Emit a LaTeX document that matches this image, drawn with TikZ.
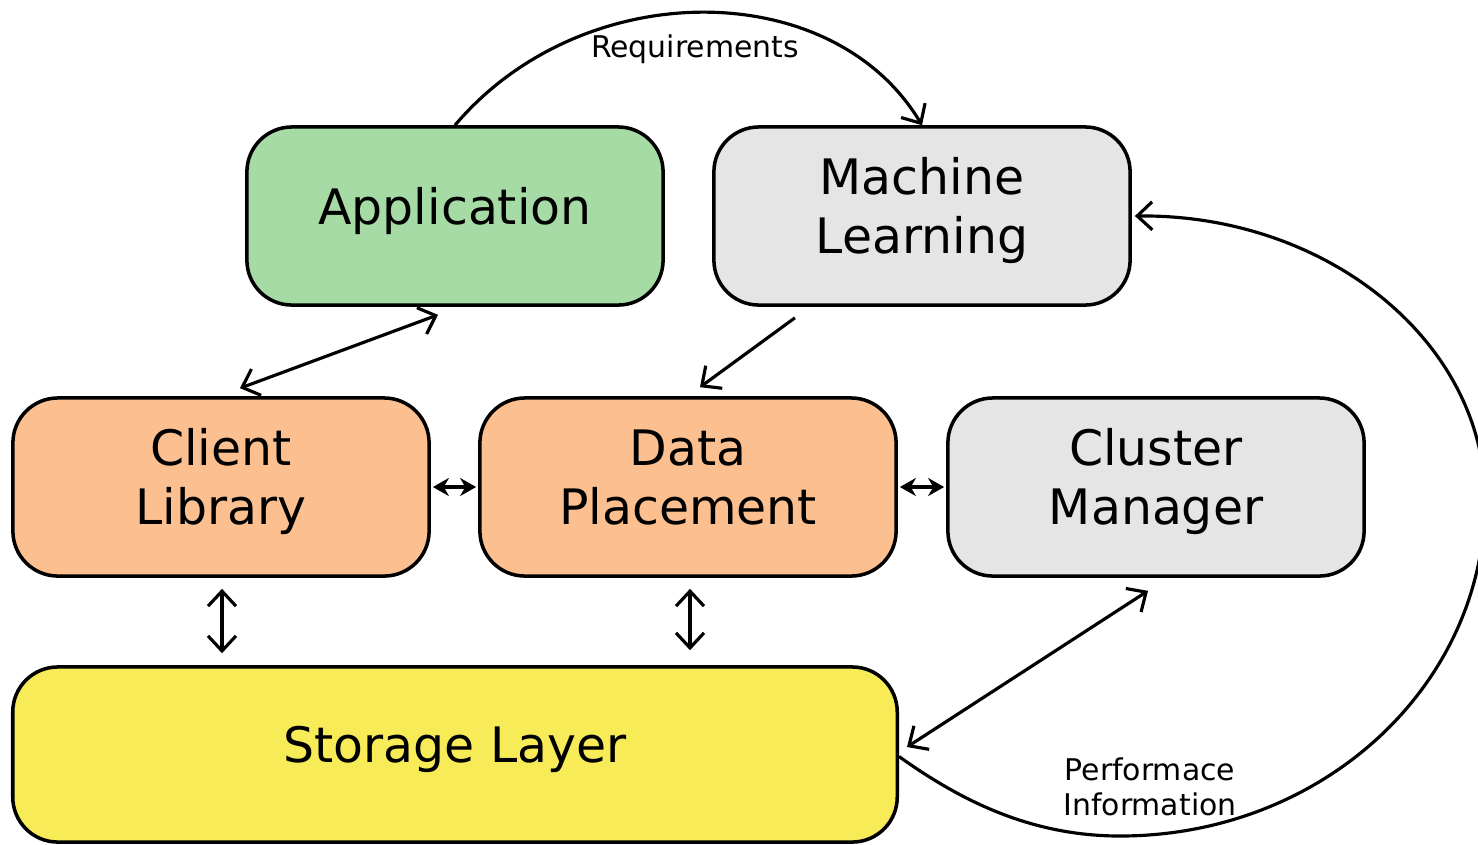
\documentclass[tikz,border=0pt]{standalone}
\usepackage{fontspec}
\setmainfont{DejaVu Sans}
\usepackage{xcolor}
\usepackage{tikz}
\usetikzlibrary{arrows.meta}

\definecolor{appgreen}{RGB}{166,219,166}
\definecolor{boxgray}{RGB}{229,229,229}
\definecolor{peach}{RGB}{252,192,144}
\definecolor{storeyellow}{RGB}{247,235,88}

\begin{document}
\begin{tikzpicture}[x=0.01cm, y=-0.01cm,
                block/.style={draw, line width=1pt, rounded corners=0.45cm, minimum width=4.16cm, minimum height=1.78cm, align=center, inner sep=0pt, font=\fontsize{13.9}{16.8}\selectfont, execute at end node={\vrule width 0pt depth 5.8pt}},
                small/.style={align=center, font=\fontsize{8.5}{10}\selectfont},
                link/.style={line width=0.9pt, arrows={-Straight Barb[length=1.5mm, width=2.8mm]}},
                twoway/.style={line width=0.9pt, arrows={Straight Barb[length=1.5mm, width=2.8mm]-Straight Barb[length=1.5mm, width=2.8mm]}},
                tiny/.style={line width=0.9pt, arrows={Stealth[length=1.6mm, width=1.8mm]-Stealth[length=1.6mm, width=1.8mm]}}]
                \useasboundingbox (0,0) rectangle (1478,844);
                \node [block, fill=appgreen] (app) at (455,216) {Application};
                \node [block, fill=boxgray] (ml) at (922,216) {Machine\\Learning};
                \node [block, fill=peach] (client) at (221,487) {Client\\Library};
                \node [block, fill=peach] (place) at (688,487) {Data\\Placement};
                \node [block, fill=boxgray] (cluster) at (1156,487) {Cluster\\Manager};
                \node [block, fill=storeyellow, minimum width=8.84cm, minimum height=1.75cm] (store) at (455,754.5) {Storage Layer};
                \node [small] (req) at (695,49) {Requirements};
                \node [small] (perf) at (1150,787) {Performace\\Information};
                \draw [link] (app.north) .. controls (582,-25) and (832,-25) .. (ml.north);
                \draw [link] ([yshift=-0.02cm]store.east) .. controls (960,800) and (1030,836) .. (1120,836)
                        .. controls (1322,836) and (1485,686) .. (1485,500)
                        .. controls (1485,342) and (1327,214) .. ([xshift=0.03cm]ml.east);
                \draw [twoway] ([xshift=-0.17cm, yshift=-0.08cm]app.south) -- ([xshift=0.19cm, yshift=0.08cm]client.north);
                \draw [link] ([xshift=-1.27cm, yshift=-0.11cm]ml.south) -- ([xshift=0.12cm, yshift=0.09cm]place.north);
                \draw [tiny, shorten <=0.02cm, shorten >=0.02cm] (client.east) -- (place.west);
                \draw [tiny, shorten <=0.02cm, shorten >=0.02cm] (place.east) -- (cluster.west);
                \draw [twoway, shorten <=0.11cm, shorten >=0.12cm] ([xshift=0.01cm]client.south) -- ([xshift=0.01cm]client.south |- store.north);
                \draw [twoway, shorten <=0.11cm, shorten >=0.15cm] ([xshift=0.02cm]place.south) -- ([xshift=0.02cm]place.south |- store.north);
                \draw [twoway] ([xshift=-0.08cm, yshift=-0.13cm]cluster.south) -- ([xshift=0.08cm, yshift=0.075cm]store.east);
            \end{tikzpicture}
\end{document}
